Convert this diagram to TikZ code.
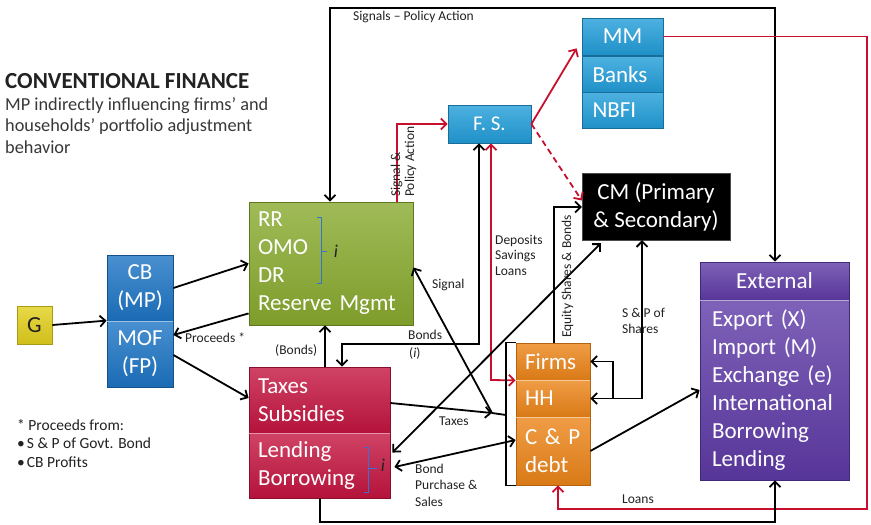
\documentclass[tikz,border=0pt]{standalone}
\usepackage{fontspec}
\setmainfont{Carlito}
\usetikzlibrary{arrows.meta}
\definecolor{cyel}{HTML}{E2CF1B}
\definecolor{cblu}{HTML}{1C74C4}
\definecolor{cgrn}{HTML}{88AA2E}
\definecolor{cred}{HTML}{C4143F}
\definecolor{csky}{HTML}{219DD9}
\definecolor{corg}{HTML}{EC8418}
\definecolor{cpur}{HTML}{5E3AA6}
\definecolor{lred}{HTML}{C8102E}
\definecolor{cbr}{HTML}{3A70D0}
\definecolor{txt}{HTML}{222222}
\begin{document}
\begin{tikzpicture}[x=1pt,y=-1pt,
  bx/.style 2 args={rectangle, draw=#2, line width=0.8pt, top color=#1!80!white, bottom color=#1!92!black, text=white, font=\fontsize{23}{28}\selectfont, inner sep=0pt},
  sep/.style={draw=white!55!#1, line width=1.6pt},
  ln/.style={line width=1.8pt, draw=black},
  arr/.style={ln, -{Straight Barb[length=5.5pt,width=11pt]}},
  arrb/.style={ln, {Straight Barb[length=5.5pt,width=11pt]}-{Straight Barb[length=5.5pt,width=11pt]}},
  rarr/.style={arr, draw=lred},
  rarrb/.style={arrb, draw=lred},
  lbl/.style={font=\fontsize{13.5}{15.5}\selectfont, inner sep=0pt, text=txt, align=left, anchor=base west},
  brk/.style={draw=cbr, line width=1pt},
]
\fill[white] (0,0) rectangle (871,525);
\useasboundingbox (0,0) rectangle (871,525);

% ---------- texts top-left
\node[inner sep=0pt, anchor=base west, text=txt, font=\fontsize{23}{28}\selectfont\bfseries] (title) at (5,88) {CONVENTIONAL FINANCE};
\node[inner sep=0pt, anchor=base west, text=txt!90, align=left, font=\fontsize{18.3}{21.5}\selectfont] (sub) at (5,153) {MP indirectly influencing firms’ and\\households’ portfolio adjustment\\behavior};
\node[inner sep=0pt, anchor=base west, text=txt, align=left, font=\fontsize{15.5}{18.5}\selectfont] (foot) at (17,467) {* Proceeds from:\\\textbullet\hspace{2pt}S \& P of Govt. Bond\\\textbullet\hspace{2pt}CB Profits};

% ---------- boxes
\node[bx={cyel}{cyel!75!black}, text=txt, minimum width=35pt, minimum height=38pt] (G) at (34.5,325) {G};
\node[bx={cblu}{cblu!70!black}, minimum width=66pt, minimum height=66pt, align=center] (CB) at (140,288) {CB\\(MP)};
\node[bx={cblu}{cblu!70!black}, minimum width=66pt, minimum height=66pt, align=center] (MOF) at (140,354) {MOF\\(FP)};
\node[bx={cgrn}{cgrn!70!black}, minimum width=164pt, minimum height=123pt, text width=146pt, align=left] (green) at (331,263.5) {RR\\OMO\\DR\\Reserve Mgmt};
\node[bx={cred}{cred!70!black}, minimum width=141pt, minimum height=66pt, text width=123pt, align=left] (red1) at (319.5,400) {Taxes\\Subsidies};
\node[bx={cred}{cred!70!black}, minimum width=141pt, minimum height=65pt, text width=123pt, align=left] (red2) at (319.5,465.5) {Lending\\Borrowing};
\node[bx={csky}{csky!70!black}, minimum width=83pt, minimum height=38pt, font=\fontsize{21}{26}\selectfont] (FS) at (489.5,124) {F. S.};
\node[bx={csky}{csky!70!black}, minimum width=81pt, minimum height=37pt] (MM) at (622.5,36.5) {MM};
\node[bx={csky}{csky!70!black}, minimum width=81pt, minimum height=36pt, text width=60pt, align=left] (Banks) at (622.5,74.5) {Banks};
\node[bx={csky}{csky!70!black}, minimum width=81pt, minimum height=36pt, text width=60pt, align=left] (NBFI) at (622.5,110.5) {NBFI};
\node[rectangle, fill=black, draw=black!70, text=white, inner sep=0pt, font=\fontsize{23}{28}\selectfont, minimum width=148pt, minimum height=67pt, align=center] (CM) at (656,206.5) {CM (Primary\\\& Secondary)};
\node[bx={cpur}{cpur!70!black}, minimum width=149pt, minimum height=38pt] (exth) at (774.5,281) {External};
\node[bx={cpur}{cpur!70!black}, minimum width=149pt, minimum height=180pt, text width=125pt, align=left] (extb) at (774.5,390) {Export (X)\\Import (M)\\Exchange (e)\\International\\Borrowing\\Lending};
\node[bx={corg}{corg!75!black}, minimum width=74pt, minimum height=37pt, text width=56pt, align=left] (Firms) at (553,361.5) {Firms};
\node[bx={corg}{corg!75!black}, minimum width=74pt, minimum height=37pt, text width=56pt, align=left] (HH) at (553,398.5) {HH};
\node[bx={corg}{corg!75!black}, minimum width=74pt, minimum height=68pt, text width=56pt, align=left] (CP) at (553,451) {C \& P\\debt};

% separators
\draw[sep=cblu] (CB.south west) -- (CB.south east);
\draw[sep=cred] (red1.south west) -- (red1.south east);
\draw[sep=cpur] (exth.south west) -- (exth.south east);
\draw[sep=corg] (Firms.south west) -- (Firms.south east);
\draw[sep=corg] (HH.south west) -- (HH.south east);

% i brackets
\draw[brk] (317,217) -- (321,217) -- (321,283) -- (317,283);
\draw[brk] (321,251) -- (327,251);
\node[inner sep=0pt, text=txt, font=\fontsize{18}{20}\itshape\selectfont] (i1) at (336,251) {i};
\draw[brk] (364,447) -- (368,447) -- (368,492) -- (364,492);
\draw[brk] (368,468) -- (377,468);
\node[inner sep=0pt, text=txt, font=\fontsize{18}{20}\itshape\selectfont] (i2) at (383,465) {i};

% ---------- coordinates
\coordinate (sigL) at (330,8);
\coordinate (sigR) at (775,8);
\coordinate (spa) at (397,124);
\coordinate (bi) at (479,344);
\coordinate (bi2) at (342,344);
\coordinate (dep) at (491,380);
\coordinate (bd) at (325,0);
\coordinate (hub) at (492,413);
\coordinate (brx) at (506,415);
\coordinate (eq) at (554,207);
\coordinate (sp) at (642,398.5);
\coordinate (fr) at (613,361.5);
\coordinate (r1) at (867,36.5);
\coordinate (r2) at (867,509);
\coordinate (r3) at (558,509);
\coordinate (b1) at (320,522);
\coordinate (b2) at (775,522);

% ---------- connectors
\draw[arr] (G.east) -- (MOF.north west);
\draw[arr] (CB.east) -- (green.west);
\draw[arr] ([yshift=12pt]green.south west) -- ([yshift=19pt]MOF.east);
\draw[arr] ([yshift=-1pt]MOF.east) -- ([yshift=2pt]red1.west);
\draw[arrb] (green.north -| sigL) -- (sigL) -- (sigR) -- (exth.north -| sigR);
\draw[rarr] (green.north -| spa) -- (spa) -- (FS.west);
\draw[rarr] (FS.east) -- ([xshift=-5pt,yshift=7pt]MM.south west);
\draw[rarr, dash pattern=on 6pt off 4pt] (FS.east) -- ([yshift=6pt]CM.west);
\draw[arrb] (FS.south -| bi) -- (bi) -- (bi2) -- (red1.north -| bi2);
\draw[rarrb] (FS.south -| dep) -- (dep) -- (Firms.south west);
\draw[arr] (red1.north -| bd) -- (green.south -| bd);
\draw[arr] (hub) -- ([yshift=-4pt]green.east);
\draw[arr] ([yshift=-3pt]red1.east) -- (hub);
\draw[ln] (hub) -- (brx);
\draw[line width=1.2pt] (Firms.north west) -- (Firms.north west -| brx) -- (CP.south west -| brx) -- (CP.south west);
\draw[arr] (Firms.north -| eq) -- (eq) -- (CM.west |- eq);
\draw[arrb] ([xshift=19pt,yshift=-3pt]CM.south west) -- ([xshift=2pt,yshift=13pt]red2.east);
\draw[arrb] ([yshift=11pt]CP.west) -- ([xshift=4pt,yshift=-1.5pt]red2.east);
\draw[arrb] (HH.east) -- (HH.east -| sp) -- (CM.south -| sp);
\draw[arr] (HH.east -| fr) -- (fr) -- (Firms.east);
\draw[arr] (CP.east) -- (extb.west);
\draw[rarr] (MM.east) -- (r1) -- (r2) -- (r3) -- (CP.south -| r3);
\draw[arr] (red2.south -| b1) -- (b1) -- (b2) -- (extb.south -| b2);

% ---------- labels
\node[lbl] (lsig) at (353,20) {Signals – Policy Action};
\node[lbl] (lproc) at (185,342) {Proceeds *};
\node[lbl, rotate=90] (lspa1) at (400,197) {Signal \&};
\node[lbl, rotate=90] (lspa2) at (414,197) {Policy Action};
\node[lbl] (ldep) at (495,275) {Deposits\\Savings\\Loans};
\node[lbl, rotate=90] (leq) at (571,338) {Equity Shares \& Bonds};
\node[lbl] (lsignal) at (432,288) {Signal};
\node[lbl, font=\fontsize{13.5}{18}\selectfont] (lbonds) at (408,357) {Bonds\\\hspace*{1pt}(\textit{i})};
\node[lbl] (lbonds2) at (275,354) {(Bonds)};
\node[lbl] (ltax) at (439,425) {Taxes};
\node[lbl, font=\fontsize{13.5}{16.5}\selectfont] (lbps) at (415,506) {Bond\\Purchase \&\\Sales};
\node[lbl, font=\fontsize{13.5}{16}\selectfont] (lsps) at (622,333) {S \& P of\\Shares};
\node[lbl] (lloans) at (622,503) {Loans};
\end{tikzpicture}
\end{document}
